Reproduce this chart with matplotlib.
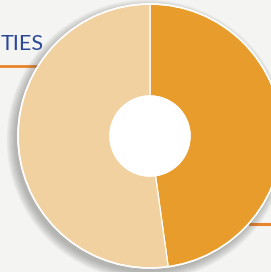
import matplotlib.pyplot as plt
from matplotlib.patches import Circle

# share of the two slices
labels = ['Orange', 'Light']
shares = [47.8, 52.2]
colors = ['#E89C2B', '#F2D1A1']

fig = plt.figure(figsize=(2.71, 2.72), dpi=100)
fig.patch.set_facecolor('#F4F4F2')
ax = fig.add_axes([0, 0, 1, 1])

cx, cy, r = 150, 136, 132

# soft shadow round the donut
for i in range(8):
    ax.add_patch(Circle((cx - 3, cy - 4), r + i * 1.2, color='#555555',
                        alpha=0.06, lw=0, zorder=1))

ax.pie(shares, colors=colors, startangle=90, counterclock=False,
       radius=r, center=(cx, cy), frame=True,
       wedgeprops=dict(width=r - 40, edgecolor='white', linewidth=0.9))
ax.add_patch(Circle((cx, cy), 40, color='white', zorder=5))
ax.add_patch(Circle((cx, cy), r, fill=False, ec='white', lw=1.2, zorder=6))

ax.set_xlim(0, 271)
ax.set_ylim(0, 272)
ax.set_aspect('equal')
ax.axis('off')

# header remains on the left, line on the right
ax.text(0.5, 222, 'TIES', color='#2B4796', fontsize=15.5, ha='left',
        va='baseline', family='Lato', zorder=0)
ax.plot([0, 40], [206, 206], color='#E8842A', lw=2, zorder=0)
ax.plot([250, 271], [48.5, 48.5], color='#E8842A', lw=2.2, zorder=0)

fig.savefig('out.png', dpi=100, facecolor=fig.get_facecolor())
